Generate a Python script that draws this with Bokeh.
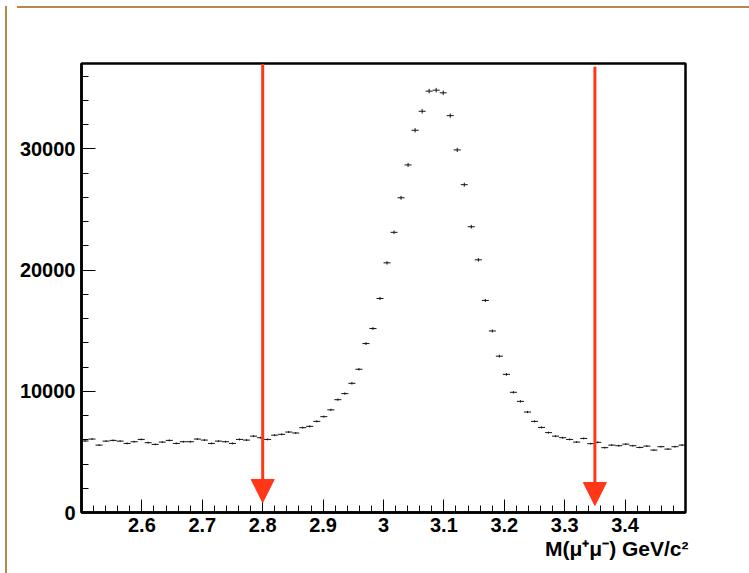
import numpy as np
from bokeh.plotting import figure
from bokeh.models import FixedTicker, Arrow, NormalHead, Title, Range1d, Div, Spacer
from bokeh.layouts import column, row
from bokeh.embed import file_html
from bokeh.resources import INLINE

# ---- data ----
x_lo, x_hi, n_bins = 2.5, 3.5, 86
counts = [
    5900, 6060, 5560, 5890, 5950, 5890, 5700, 5840, 6030, 5760,
    5620, 5810, 5950, 5700, 5840, 5840, 6060, 5975, 5700, 5890,
    5840, 5700, 6030, 5975, 6300, 6170, 6030, 6380, 6450, 6640,
    6560, 7000, 7110, 7520, 7910, 8470, 9310, 9810, 10660, 11820,
    13940, 15180, 17660, 20600, 23120, 25970, 28680, 31540, 33110, 34770,
    34850, 34630, 32750, 29920, 27050, 23580, 20850, 17500, 14980, 12900,
    11400, 9920, 9170, 8290, 7520, 7020, 6590, 6300, 6170, 6030,
    5810, 6110, 5680, 5790, 5350, 5560, 5510, 5640, 5510, 5370,
    5480, 5150, 5430, 5230, 5430, 5560,
]
x_major_ticks = [2.6, 2.7, 2.8, 2.9, 3.0, 3.1, 3.2, 3.3, 3.4]
x_tick_labels = ["2.6", "2.7", "2.8", "2.9", "3", "3.1", "3.2", "3.3", "3.4"]
x_minor_ticks = [round(2.5 + 0.02 * i, 2) for i in range(51)]
y_major_ticks = [0, 10000, 20000, 30000]
y_tick_labels = ["0", "10000", "20000", "30000"]
y_minor_ticks = [2000 * i for i in range(19)]
cut_positions = [2.8, 3.35]
arrow_tops = [37000, 36780]
arrow_tips = [830, 580]
x_title = "M(\u03bc\u207a\u03bc\u207b) GeV/c\u00b2"
y_max = 37050

# ---- derived ----
edges = np.linspace(x_lo, x_hi, n_bins + 1)
centers = 0.5 * (edges[:-1] + edges[1:])
cnt = np.array(counts, dtype=float)
err = np.sqrt(cnt)

p = figure(width=733, height=557, x_range=Range1d(x_lo, x_hi), y_range=Range1d(0, y_max),
           output_backend="svg", toolbar_location=None,
           min_border_left=69, min_border_right=60, min_border_top=50, min_border_bottom=58)

p.xgrid.visible = False
p.ygrid.visible = False
p.outline_line_color = "black"
p.outline_line_width = 2.5
p.background_fill_color = "white"
p.border_fill_color = "white"

red = "#ff3618"
FONT = "Liberation Sans"
page_border = "#b8854c"

for ax in (p.xaxis[0], p.yaxis[0]):
    ax.axis_line_color = "black"
    ax.axis_line_width = 2.5
    ax.major_tick_out = 0
    ax.minor_tick_out = 0
    ax.major_tick_line_color = "black"
    ax.minor_tick_line_color = "black"
    ax.major_tick_line_width = 1
    ax.minor_tick_line_width = 1
    ax.major_label_text_font = FONT
    ax.major_label_text_font_style = "bold"
    ax.major_label_text_font_size = "20px"
    ax.major_label_text_color = "black"

p.xaxis.ticker = FixedTicker(ticks=x_major_ticks, minor_ticks=x_minor_ticks)
p.xaxis.major_label_overrides = {t: l for t, l in zip(x_major_ticks, x_tick_labels)}
p.xaxis.major_tick_in = 13
p.xaxis.minor_tick_in = 7
p.xaxis.major_label_standoff = 5

p.yaxis.ticker = FixedTicker(ticks=y_major_ticks, minor_ticks=y_minor_ticks)
p.yaxis.major_label_overrides = {t: l for t, l in zip(y_major_ticks, y_tick_labels)}
p.yaxis.major_tick_in = 14
p.yaxis.minor_tick_in = 7
p.yaxis.major_label_standoff = 6

# histogram points with error bars
p.segment(x0=edges[:-1], y0=cnt, x1=edges[1:], y1=cnt, line_color="#111111", line_width=1)
p.segment(x0=centers, y0=cnt - err, x1=centers, y1=cnt + err, line_color="#111111", line_width=1)

# cut arrows
for xc, top, tip in zip(cut_positions, arrow_tops, arrow_tips):
    p.add_layout(Arrow(end=NormalHead(size=23, fill_color=red, line_color=red, line_width=1),
                       x_start=xc, y_start=top, x_end=xc, y_end=tip,
                       line_color=red, line_width=3))

p.add_layout(Title(text=x_title, align="right", offset=-3, standoff=0,
                   text_font=FONT, text_font_style="bold",
                   text_font_size="21px", text_color="black"), "below")

# page frame: left and top edges
top_line = Div(width=741, height=2, styles={"background-color": page_border})
left_line = Div(width=2, height=570, styles={"background-color": page_border})
layout = column(Spacer(height=1),
                row(Spacer(width=0), left_line, column(top_line, p)))

open("out.html", "w").write(file_html(layout, INLINE))
